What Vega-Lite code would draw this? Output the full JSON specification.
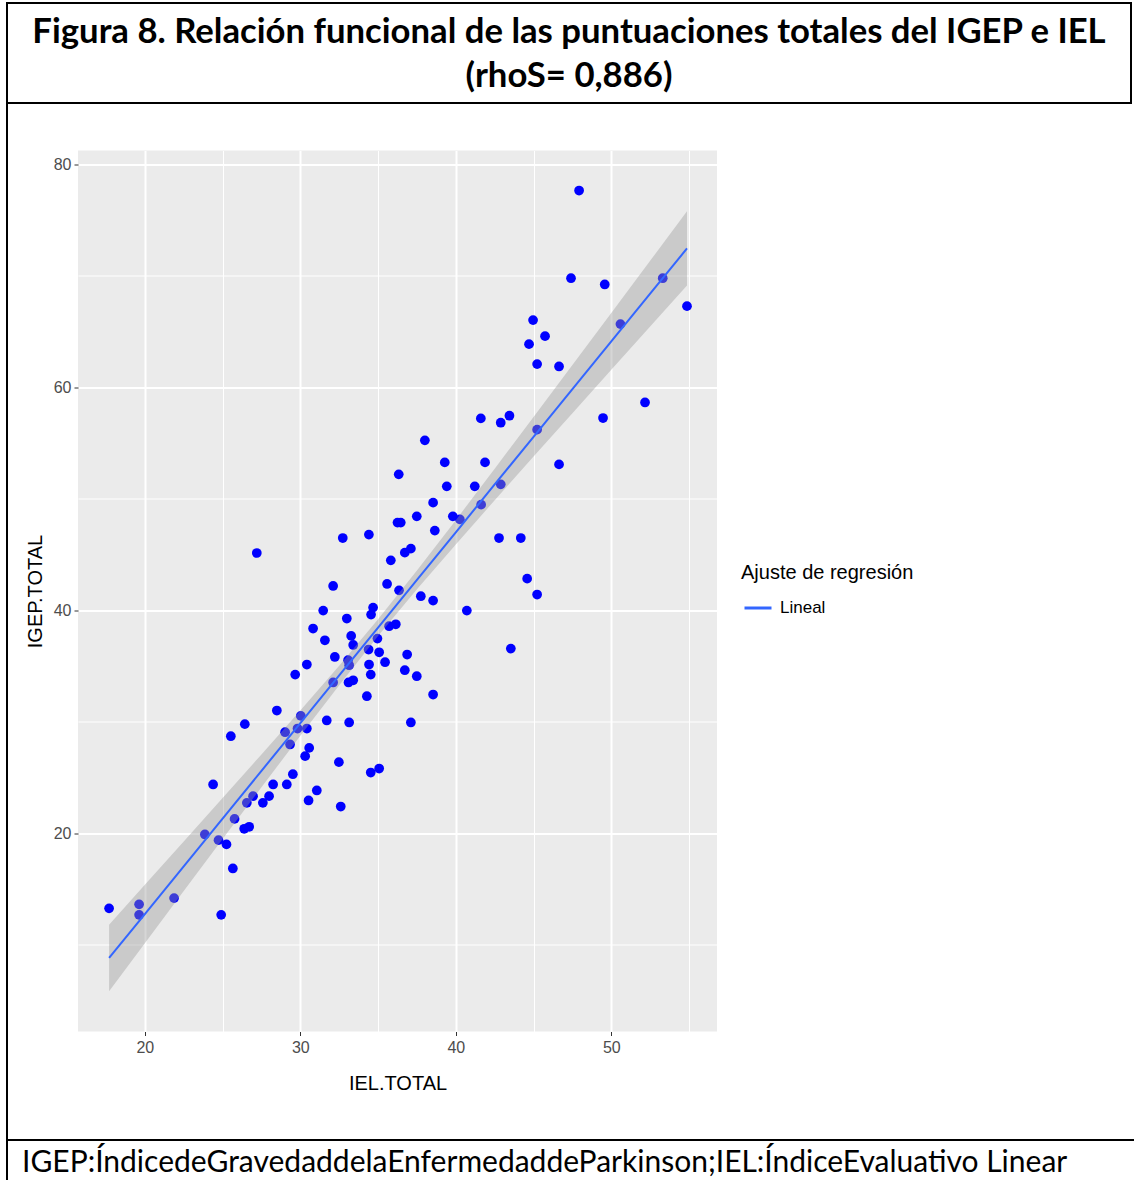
{
  "$schema": "https://vega.github.io/schema/vega-lite/v6.json",
  "background": "white",
  "padding": {"left": 6, "top": 2, "right": 0, "bottom": 0},
  "spacing": 0,
  "datasets": {
    "puntos": [
      {"iel": 17.70, "igep": 13.25}, {"iel": 19.63, "igep": 13.61}, {"iel": 19.63, "igep": 12.67}, {"iel": 21.88, "igep": 14.17},
      {"iel": 24.91, "igep": 12.67}, {"iel": 25.66, "igep": 16.83}, {"iel": 23.86, "igep": 19.88}, {"iel": 24.74, "igep": 19.37},
      {"iel": 25.25, "igep": 18.99}, {"iel": 25.77, "igep": 21.28}, {"iel": 26.39, "igep": 20.39}, {"iel": 26.71, "igep": 20.57},
      {"iel": 24.39, "igep": 24.37}, {"iel": 28.25, "igep": 24.37}, {"iel": 29.13, "igep": 24.37}, {"iel": 26.96, "igep": 23.32},
      {"iel": 26.56, "igep": 22.72}, {"iel": 27.99, "igep": 23.32}, {"iel": 27.59, "igep": 22.72}, {"iel": 31.06, "igep": 23.83},
      {"iel": 30.53, "igep": 22.93}, {"iel": 32.60, "igep": 22.39}, {"iel": 27.20, "igep": 45.14}, {"iel": 35.82, "igep": 44.48},
      {"iel": 36.72, "igep": 45.17}, {"iel": 37.11, "igep": 45.53}, {"iel": 32.11, "igep": 42.18}, {"iel": 35.58, "igep": 42.36},
      {"iel": 36.35, "igep": 41.79}, {"iel": 37.75, "igep": 41.26}, {"iel": 38.54, "igep": 40.87}, {"iel": 31.47, "igep": 39.97},
      {"iel": 32.99, "igep": 39.26}, {"iel": 34.68, "igep": 40.24}, {"iel": 34.55, "igep": 39.61}, {"iel": 30.82, "igep": 38.36},
      {"iel": 31.58, "igep": 37.31}, {"iel": 33.27, "igep": 37.70}, {"iel": 33.40, "igep": 36.89}, {"iel": 34.96, "igep": 37.46},
      {"iel": 35.71, "igep": 38.57}, {"iel": 36.14, "igep": 38.74}, {"iel": 34.39, "igep": 36.48}, {"iel": 35.07, "igep": 36.23},
      {"iel": 32.22, "igep": 35.81}, {"iel": 33.07, "igep": 35.52}, {"iel": 33.14, "igep": 35.07}, {"iel": 30.42, "igep": 35.13},
      {"iel": 29.67, "igep": 34.23}, {"iel": 34.42, "igep": 35.13}, {"iel": 34.53, "igep": 34.23}, {"iel": 35.45, "igep": 35.34},
      {"iel": 36.87, "igep": 36.03}, {"iel": 36.72, "igep": 34.62}, {"iel": 37.49, "igep": 34.08}, {"iel": 32.11, "igep": 33.52},
      {"iel": 33.10, "igep": 33.52}, {"iel": 33.40, "igep": 33.72}, {"iel": 34.28, "igep": 32.29}, {"iel": 38.54, "igep": 32.44},
      {"iel": 28.49, "igep": 31.00}, {"iel": 26.43, "igep": 29.78}, {"iel": 25.53, "igep": 28.70}, {"iel": 30.03, "igep": 30.52},
      {"iel": 29.02, "igep": 29.06}, {"iel": 29.82, "igep": 29.39}, {"iel": 30.42, "igep": 29.39}, {"iel": 31.70, "igep": 30.11},
      {"iel": 33.14, "igep": 29.93}, {"iel": 37.11, "igep": 29.93}, {"iel": 29.34, "igep": 27.96}, {"iel": 30.57, "igep": 27.65},
      {"iel": 30.31, "igep": 26.91}, {"iel": 32.48, "igep": 26.37}, {"iel": 34.53, "igep": 25.44}, {"iel": 35.07, "igep": 25.80},
      {"iel": 29.52, "igep": 25.29}, {"iel": 41.61, "igep": 57.22}, {"iel": 42.89, "igep": 56.83}, {"iel": 43.45, "igep": 57.46},
      {"iel": 45.23, "igep": 56.21}, {"iel": 38.01, "igep": 55.25}, {"iel": 39.29, "igep": 53.27}, {"iel": 41.88, "igep": 53.27},
      {"iel": 36.33, "igep": 52.20}, {"iel": 39.42, "igep": 51.12}, {"iel": 41.22, "igep": 51.12}, {"iel": 42.89, "igep": 51.30},
      {"iel": 41.63, "igep": 49.48}, {"iel": 38.54, "igep": 49.66}, {"iel": 37.49, "igep": 48.43}, {"iel": 39.81, "igep": 48.43},
      {"iel": 40.26, "igep": 48.16}, {"iel": 36.25, "igep": 47.87}, {"iel": 36.46, "igep": 47.87}, {"iel": 38.65, "igep": 47.15},
      {"iel": 32.73, "igep": 46.48}, {"iel": 34.41, "igep": 46.79}, {"iel": 42.78, "igep": 46.48}, {"iel": 44.18, "igep": 46.48},
      {"iel": 44.59, "igep": 42.84}, {"iel": 45.23, "igep": 41.41}, {"iel": 40.71, "igep": 39.97}, {"iel": 43.54, "igep": 36.56},
      {"iel": 46.64, "igep": 53.09}, {"iel": 47.93, "igep": 77.67}, {"iel": 47.41, "igep": 69.80}, {"iel": 49.58, "igep": 69.24},
      {"iel": 53.31, "igep": 69.80}, {"iel": 54.87, "igep": 67.29}, {"iel": 50.59, "igep": 65.68}, {"iel": 44.97, "igep": 66.04},
      {"iel": 45.74, "igep": 64.60}, {"iel": 44.71, "igep": 63.88}, {"iel": 45.23, "igep": 62.09}, {"iel": 46.64, "igep": 61.88},
      {"iel": 52.17, "igep": 58.65}, {"iel": 49.47, "igep": 57.25}
    ],
    "ajuste": [
      {"iel": 17.7, "fit": 8.80, "lo": 5.82, "hi": 11.78, "ajuste": "Lineal"},
      {"iel": 20.0, "fit": 12.74, "lo": 10.12, "hi": 15.36, "ajuste": "Lineal"},
      {"iel": 22.5, "fit": 17.02, "lo": 14.80, "hi": 19.24, "ajuste": "Lineal"},
      {"iel": 25.0, "fit": 21.31, "lo": 19.47, "hi": 23.15, "ajuste": "Lineal"},
      {"iel": 27.5, "fit": 25.59, "lo": 24.12, "hi": 27.06, "ajuste": "Lineal"},
      {"iel": 30.0, "fit": 29.87, "lo": 28.73, "hi": 31.01, "ajuste": "Lineal"},
      {"iel": 32.5, "fit": 34.15, "lo": 33.28, "hi": 35.02, "ajuste": "Lineal"},
      {"iel": 35.0, "fit": 38.44, "lo": 37.69, "hi": 39.19, "ajuste": "Lineal"},
      {"iel": 37.5, "fit": 42.72, "lo": 41.88, "hi": 43.56, "ajuste": "Lineal"},
      {"iel": 40.0, "fit": 47.00, "lo": 45.91, "hi": 48.09, "ajuste": "Lineal"},
      {"iel": 42.5, "fit": 51.29, "lo": 49.87, "hi": 52.71, "ajuste": "Lineal"},
      {"iel": 45.0, "fit": 55.57, "lo": 53.79, "hi": 57.35, "ajuste": "Lineal"},
      {"iel": 47.5, "fit": 59.85, "lo": 57.69, "hi": 62.01, "ajuste": "Lineal"},
      {"iel": 50.0, "fit": 64.13, "lo": 61.58, "hi": 66.68, "ajuste": "Lineal"},
      {"iel": 52.5, "fit": 68.41, "lo": 65.46, "hi": 71.36, "ajuste": "Lineal"},
      {"iel": 54.87, "fit": 72.47, "lo": 69.14, "hi": 75.80, "ajuste": "Lineal"}
    ]
  },
  "config": {
    "view": {"stroke": null},
    "font": "Liberation Sans",
    "axis": {
      "domain": false,
      "gridColor": "#FFFFFF",
      "tickColor": "#333333",
      "tickSize": 4,
      "tickWidth": 1,
      "labelColor": "#4D4D4D",
      "labelFontSize": 16,
      "labelFont": "Liberation Sans",
      "titleFont": "Liberation Sans",
      "titleFontSize": 20,
      "titleFontWeight": "normal",
      "titleColor": "#000000"
    }
  },
  "vconcat": [
    {
      "width": 1124,
      "height": 100,
      "view": {"stroke": "#000000", "strokeWidth": 2},
      "data": {"values": [{}]},
      "mark": {
        "type": "text",
        "text": ["Figura 8. Relación funcional de las puntuaciones totales del IGEP e IEL", "(rhoS= 0,886)"],
        "font": "Lato",
        "fontWeight": "bold",
        "fontSize": 34.7,
        "lineHeight": 44,
        "align": "center",
        "baseline": "middle",
        "dy": -20,
        "color": "#000000"
      },
      "encoding": {}
    },
    {
      "spacing": 16,
      "center": true,
      "hconcat": [
        {
          "width": 0.001,
          "height": 1033,
          "view": {"stroke": "#000000", "strokeWidth": 2},
          "data": {"values": []},
          "mark": "point",
          "encoding": {}
        },
        {
          "width": 639,
          "height": 881,
          "view": {"fill": "#EBEBEB", "stroke": null},
          "layer": [
            {
              "data": {"name": "puntos"},
              "mark": {"type": "circle", "size": 95, "opacity": 1, "color": "#0000FF"},
              "encoding": {
                "x": {
                  "field": "iel", "type": "quantitative", "title": "IEL.TOTAL",
                  "scale": {"domain": [15.7, 56.8], "nice": false, "zero": false},
                  "axis": {
                    "values": [20, 25, 30, 35, 40, 45, 50, 55],
                    "labelExpr": "datum.value % 10 === 0 ? datum.label : ''",
                    "gridWidth": {"condition": {"test": "datum.value % 10 === 0", "value": 2}, "value": 1},
                    "tickOpacity": {"condition": {"test": "datum.value % 10 === 0", "value": 1}, "value": 0},
                    "labelPadding": 4,
                    "titlePadding": 18
                  }
                },
                "y": {
                  "field": "igep", "type": "quantitative", "title": "IGEP.TOTAL",
                  "scale": {"domain": [2.2, 81.26], "nice": false, "zero": false},
                  "axis": {
                    "values": [10, 20, 30, 40, 50, 60, 70, 80],
                    "labelExpr": "datum.value % 20 === 0 ? datum.label : ''",
                    "gridWidth": {"condition": {"test": "datum.value % 20 === 0", "value": 2}, "value": 1},
                    "tickOpacity": {"condition": {"test": "datum.value % 20 === 0", "value": 1}, "value": 0},
                    "labelPadding": 3,
                    "titlePadding": 8
                  }
                }
              }
            },
            {
              "data": {"name": "ajuste"},
              "mark": {"type": "area", "color": "#999999", "opacity": 0.4},
              "encoding": {
                "x": {"field": "iel", "type": "quantitative", "title": "IEL.TOTAL"},
                "y": {"field": "lo", "type": "quantitative", "title": "IGEP.TOTAL"},
                "y2": {"field": "hi"}
              }
            },
            {
              "data": {"name": "ajuste"},
              "mark": {"type": "line", "strokeWidth": 2},
              "encoding": {
                "x": {"field": "iel", "type": "quantitative", "title": "IEL.TOTAL"},
                "y": {"field": "fit", "type": "quantitative", "title": "IGEP.TOTAL"},
                "color": {
                  "field": "ajuste", "type": "nominal",
                  "scale": {"range": ["#3366FF"]},
                  "legend": {
                    "title": "Ajuste de regresión",
                    "orient": "none",
                    "legendX": 734,
                    "legendY": 560,
                    "symbolType": "stroke",
                    "symbolSize": 729,
                    "symbolStrokeWidth": 3,
                    "symbolOffset": 2,
                    "labelOffset": 7,
                    "titleFont": "Liberation Sans",
                    "titleFontSize": 20,
                    "titleFontWeight": "normal",
                    "titleColor": "#000000",
                    "titlePadding": 10,
                    "labelFont": "Liberation Sans",
                    "labelFontSize": 17,
                    "labelColor": "#000000"
                  }
                }
              }
            }
          ]
        }
      ]
    },
    {
      "width": 1128,
      "height": 41,
      "view": {"stroke": "#000000", "strokeWidth": 2},
      "data": {"values": []},
      "mark": "point",
      "encoding": {},
      "title": {
        "text": "IGEP:ÍndicedeGravedaddelaEnfermedaddeParkinson;IEL:ÍndiceEvaluativo Linear",
        "orient": "bottom",
        "anchor": "start",
        "frame": "group",
        "offset": -33,
        "dx": 15,
        "font": "Lato",
        "fontSize": 30,
        "fontWeight": "normal",
        "color": "#000000"
      }
    }
  ]
}
